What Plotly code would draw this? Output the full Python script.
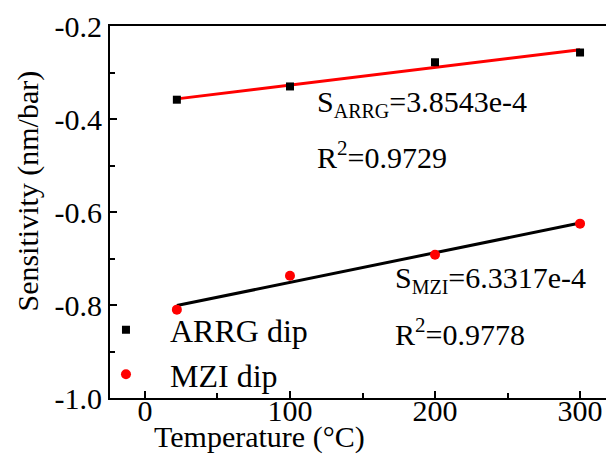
import numpy as np
import plotly.graph_objects as go

# Data
temperature = [22, 100, 200, 300]
arrg_dip = [-0.3585, -0.330, -0.278, -0.257]
mzi_dip = [-0.810, -0.737, -0.692, -0.625]
x_ticks = [0, 100, 200, 300]
x_tick_labels = ["0", "100", "200", "300"]
y_ticks = [-1.0, -0.8, -0.6, -0.4, -0.2]
y_tick_labels = ["-1.0", "-0.8", "-0.6", "-0.4", "-0.2"]

FONT = "Liberation Serif"

# Linear fits
xa = np.array(temperature, dtype=float)
pa = np.polyfit(xa, np.array(arrg_dip), 1)
pm = np.polyfit(xa, np.array(mzi_dip), 1)
xfit = np.array([temperature[0], temperature[-1]], dtype=float)

fig = go.Figure()
fig.add_trace(go.Scatter(x=xfit, y=np.polyval(pa, xfit), mode="lines",
                         line=dict(color="#ff0000", width=3), showlegend=False))
fig.add_trace(go.Scatter(x=xfit, y=np.polyval(pm, xfit), mode="lines",
                         line=dict(color="#000000", width=3), showlegend=False))
fig.add_trace(go.Scatter(x=temperature, y=arrg_dip, mode="markers", name="ARRG dip",
                         marker=dict(symbol="square", size=8, color="#000000")))
fig.add_trace(go.Scatter(x=temperature, y=mzi_dip, mode="markers", name="MZI dip",
                         marker=dict(symbol="circle", size=10, color="#ff0000")))

ann_font = dict(family=FONT, size=30, color="black")
annotations = [
    dict(text="S<sub><span style='font-size:20px'>ARRG</span></sub>=3.8543e-4", x=117.2, y=-0.3656),
    dict(text="R<sup>2</sup>=0.9729", x=117.2, y=-0.4774),
    dict(text="S<sub><span style='font-size:20px'>MZI</span></sub>=6.3317e-4", x=171.0, y=-0.7462),
    dict(text="R<sup>2</sup>=0.9778", x=171.0, y=-0.8581),
]
for a in annotations:
    fig.add_annotation(xref="x", yref="y", xanchor="left", yanchor="middle",
                       showarrow=False, font=ann_font, **a)

# Axis titles
fig.add_annotation(text="Temperature (°C)", xref="x", yref="paper", x=79.3, y=-0.104,
                   xanchor="center", yanchor="middle", showarrow=False,
                   font=dict(family=FONT, size=30, color="black"))
fig.add_annotation(text="Sensitivity (nm/bar)", xref="paper", yref="paper", x=-0.1653, y=0.555,
                   xanchor="center", yanchor="middle", showarrow=False, textangle=-90,
                   font=dict(family=FONT, size=30, color="black"))

fig.update_layout(
    width=606, height=466,
    margin=dict(l=110, r=0, t=26, b=68),
    paper_bgcolor="white", plot_bgcolor="white",
    font=dict(family=FONT, size=30, color="black"),
    legend=dict(x=-0.0565, y=0.257, xanchor="left", yanchor="top",
                font=dict(family=FONT, size=32, color="black"),
                bgcolor="rgba(0,0,0,0)", itemwidth=78, tracegroupgap=0),
)
fig.update_xaxes(range=[-24.1, 317.9], showgrid=False, zeroline=False,
                 showline=True, linecolor="black", linewidth=2, mirror=True,
                 ticks="inside", ticklen=7, tickwidth=2, tickcolor="black",
                 tickvals=x_ticks, ticktext=x_tick_labels, ticklabelstandoff=-15,
                 tickfont=dict(family=FONT, size=30, color="black"),
                 minor=dict(ticks="inside", ticklen=5, tickwidth=2, tickcolor="black",
                            dtick=50, tick0=0))
fig.update_yaxes(range=[-1.0, -0.2], showgrid=False, zeroline=False,
                 showline=True, linecolor="black", linewidth=2, mirror=False,
                 ticks="inside", ticklen=7, tickwidth=2, tickcolor="black",
                 tickvals=y_ticks, ticktext=y_tick_labels,
                 tickfont=dict(family=FONT, size=30, color="black"),
                 minor=dict(ticks="inside", ticklen=5, tickwidth=2, tickcolor="black",
                            dtick=0.1, tick0=-1.0))

fig.write_html("out.html")
